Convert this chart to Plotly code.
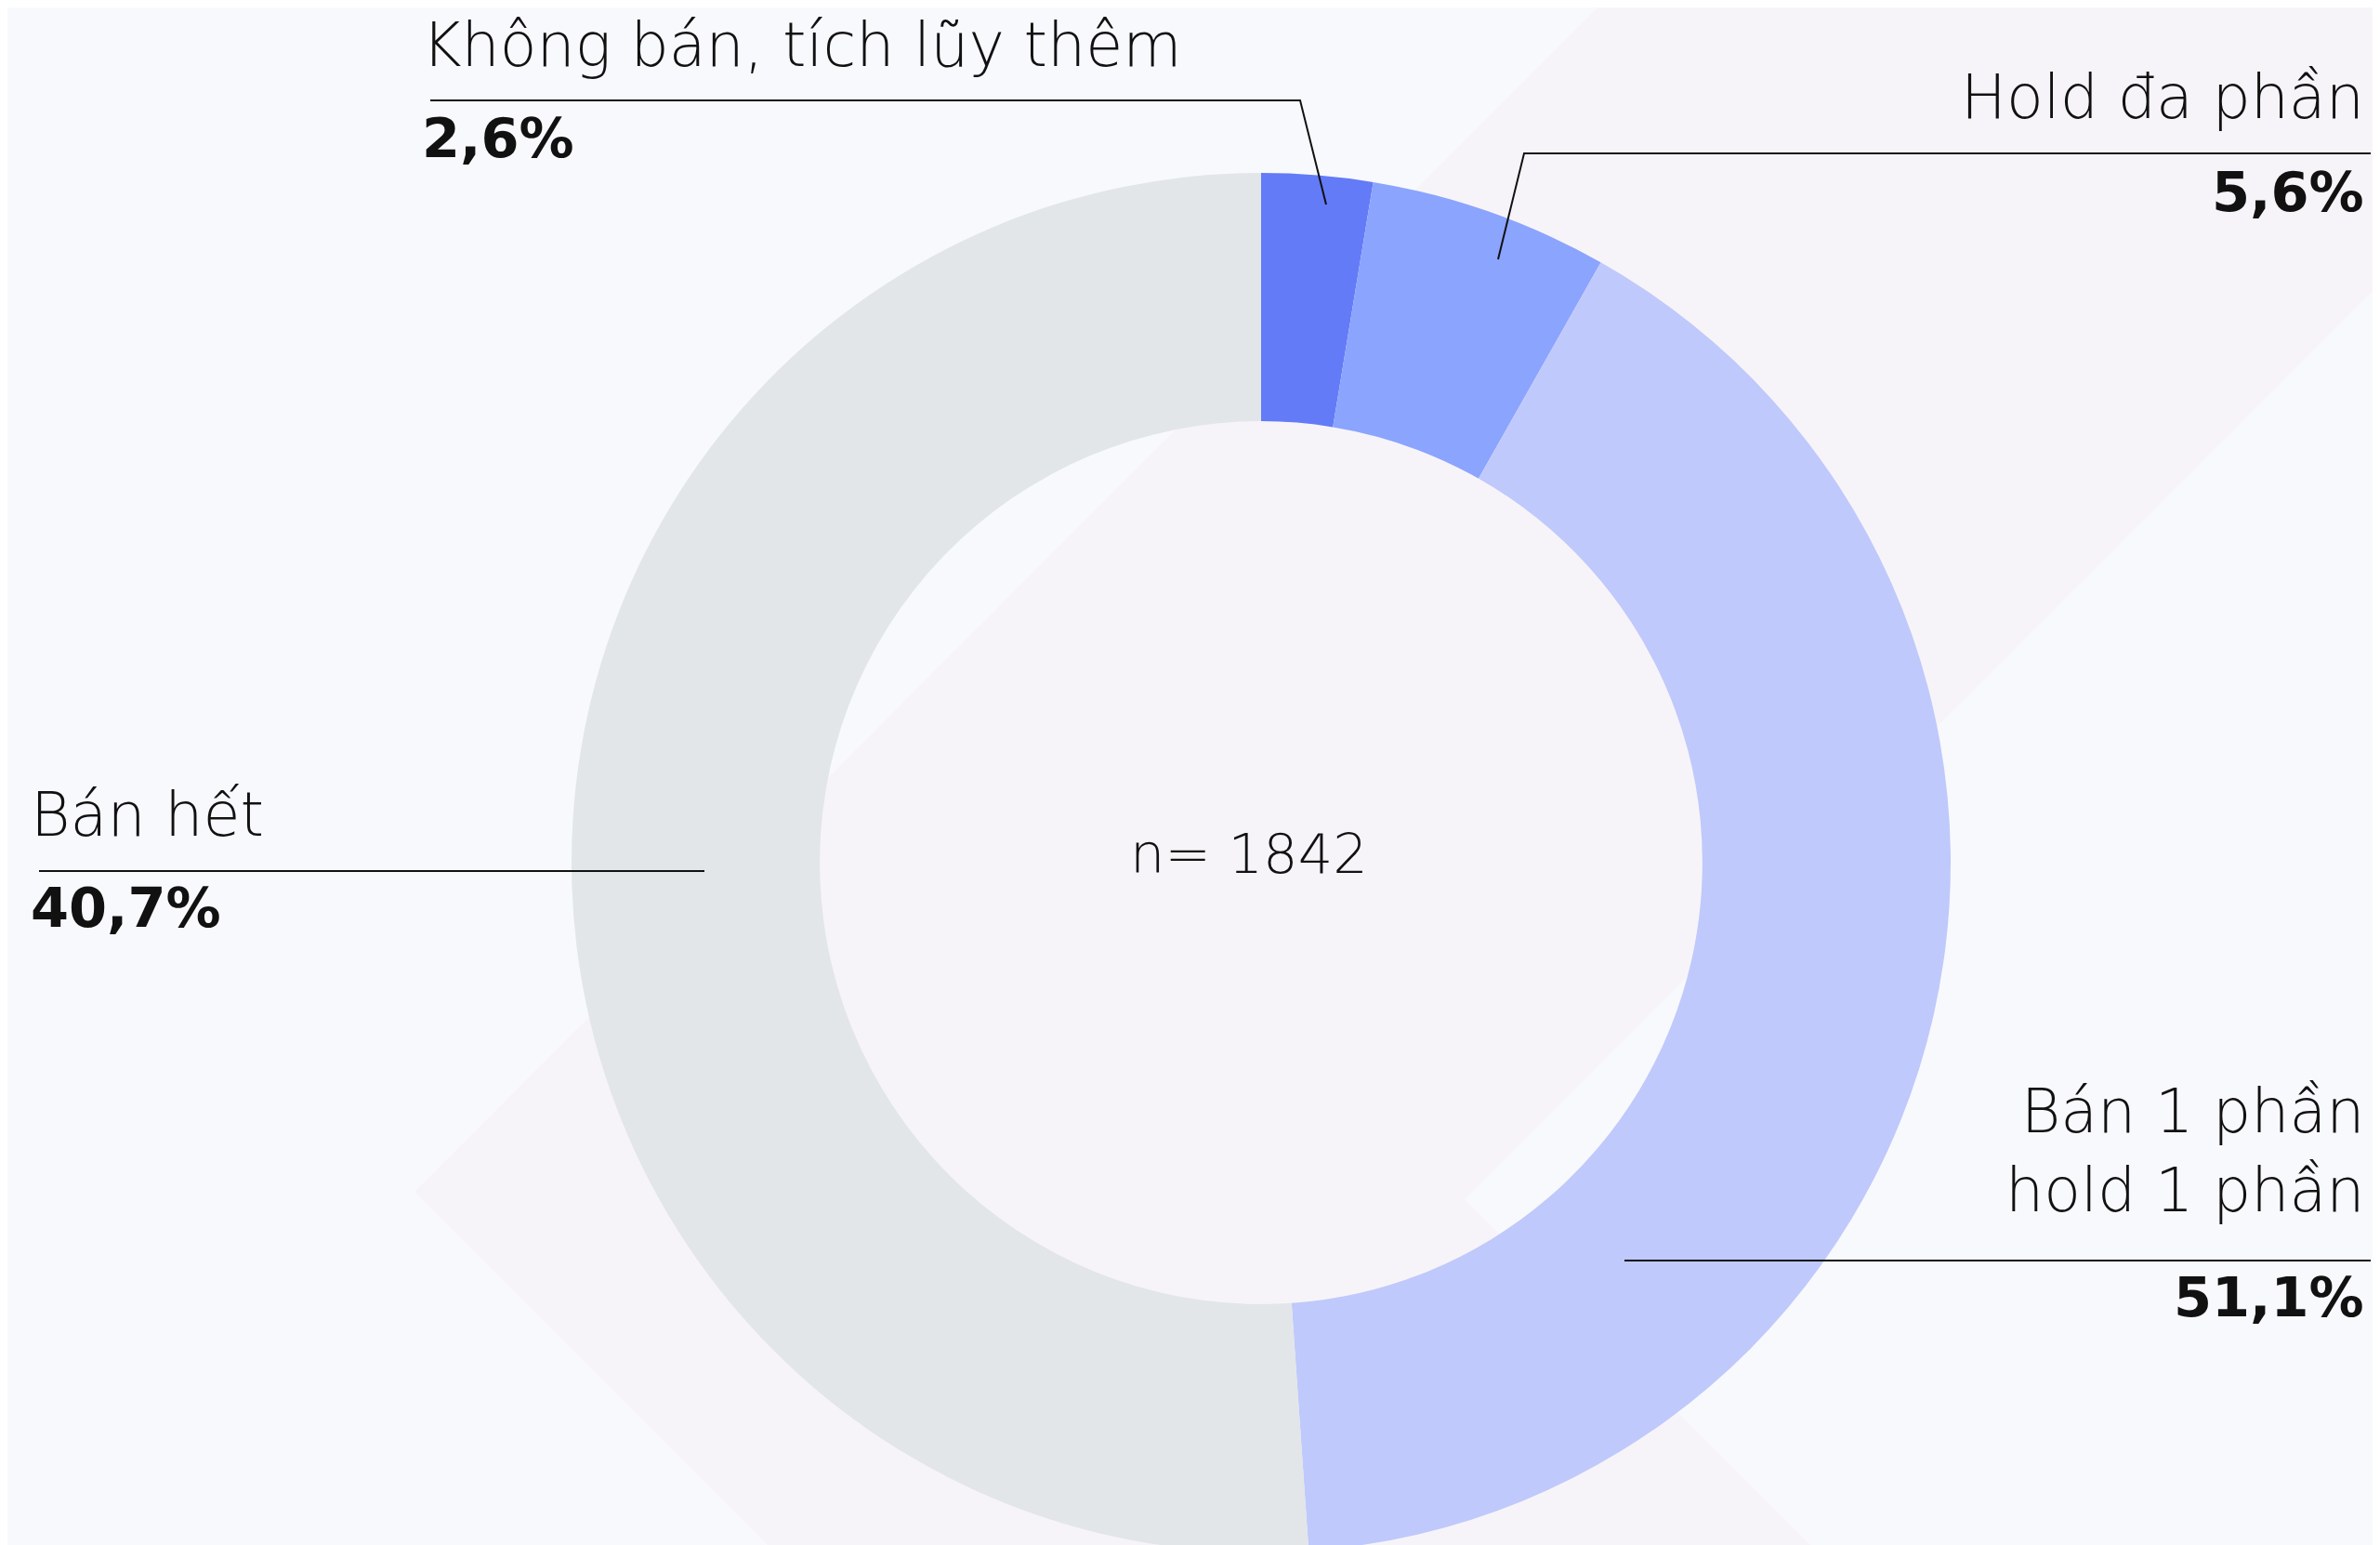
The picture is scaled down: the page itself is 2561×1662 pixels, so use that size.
import plotly.graph_objects as go

# ---- data ----
# callout texts as printed on the reference
categories = ["Không bán, tích lũy thêm", "Hold đa phần", "Bán 1 phần<br>hold 1 phần", "Bán hết"]
shares = [2.6, 5.6, 51.1, 40.7]
# ring slices, clockwise from 12 o'clock, as drawn in the reference
# (the drawn lavender arc spans ~40.7% and the grey arc ~51.1%)
ring_labels = ["Không bán, tích lũy thêm", "Hold đa phần", "Bán 1 phần, hold 1 phần", "Bán hết"]
ring_values = [shares[0], shares[1], shares[3], shares[2]]
colors = ["#637bf7", "#8ba4fd", "#bfc9fb", "#e2e6e9"]
center_text = "n= 1842"

W, H = 2561, 1662
FONT = "DejaVu Sans"
NAME_SIZE = 65
PCT_SIZE = 59


def px(x):
    return x / W


def py(y):
    return 1 - y / H


def pct(v):
    return f"{v:.1f}".replace(".", ",") + "%"


fig = go.Figure()
fig.add_trace(go.Pie(
    labels=ring_labels,
    values=ring_values,
    marker=dict(colors=colors, line=dict(width=0)),
    sort=False,
    direction="clockwise",
    rotation=0,
    hole=0.64,
    textinfo="none",
    hoverinfo="label+value",
    showlegend=False,
    domain=dict(x=[px(607), px(2091)], y=[0, 1484 / H]),
))

# background chevron (watermark)
chev = [(438, 1274), (1711, 0), (2561, 0), (2561, 289), (1568, 1282), (1948, 1662), (826, 1662)]
path = "M " + " L ".join(f"{px(x)},{py(y)}" for x, y in chev) + " Z"
shapes = [dict(type="path", xref="paper", yref="paper", path=path,
               fillcolor="#f7f4f9", line=dict(width=0), layer="below")]

# leader lines (pixel geometry)
leaders = [
    [(455, 100), (1391, 100), (1419, 212)],
    [(2543, 157), (1632, 157), (1604, 271)],
    [(34, 929), (750, 929)],
    [(1740, 1348), (2543, 1348)],
]
for pts in leaders:
    p = "M " + " L ".join(f"{px(x)},{py(y)}" for x, y in pts)
    shapes.append(dict(type="path", xref="paper", yref="paper", path=p,
                       line=dict(color="#111111", width=2), layer="above"))

# label layout: (x, anchor, y_name_mid, y_pct_mid)
label_pos = [
    (444, "left", 40, 141),
    (2538, "right", 97, 198),
    (2538, "right", 1230, 1387),
    (23, "left", 869, 969),
]
annotations = []
for (x, anc, yn, yp), lab, v in zip(label_pos, categories, shares):
    annotations.append(dict(x=px(x), y=py(yn), xref="paper", yref="paper",
                            xanchor=anc, yanchor="middle", align=anc, showarrow=False,
                            text=lab, font=dict(family=FONT, size=NAME_SIZE, color="#111111", weight=200)))
    annotations.append(dict(x=px(x), y=py(yp), xref="paper", yref="paper",
                            xanchor=anc, yanchor="middle", align=anc, showarrow=False,
                            text=pct(v), font=dict(family=FONT, size=PCT_SIZE, color="#111111", weight=700)))
annotations.append(dict(x=px(1336), y=py(910), xref="paper", yref="paper",
                        xanchor="center", yanchor="middle", showarrow=False,
                        text=center_text, font=dict(family=FONT, size=PCT_SIZE, color="#111111", weight=200)))

fig.update_layout(
    width=W, height=H,
    margin=dict(l=0, r=0, t=0, b=0),
    paper_bgcolor="#f8f9fd",
    plot_bgcolor="#f8f9fd",
    shapes=shapes,
    annotations=annotations,
)
fig.write_html("out.html")
